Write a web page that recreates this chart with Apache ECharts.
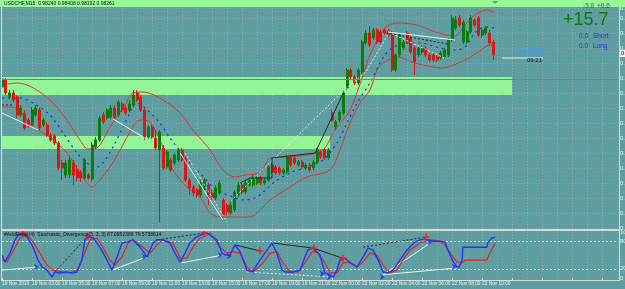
<!DOCTYPE html>
<html style="height: 100%">
<head>
<meta charset="utf-8">
</head>
<body style="height: 100%; margin: 0; background: #5f9ea0">
<div id="container" style="width: 625px; height: 289px"></div>
<script type="text/javascript" src="https://cdn.jsdelivr.net/npm/echarts@6/dist/echarts.min.js"></script>
<script type="text/javascript">

// M15 bars, 165 slots (bars + empty shift area on the right)
var slotCount = 165;
var timeLabels = ['19 Nov 2018', '19 Nov 03:00', '19 Nov 05:00', '19 Nov 07:00', '19 Nov 09:00',
    '19 Nov 11:00', '19 Nov 13:00', '19 Nov 15:00', '19 Nov 17:00', '19 Nov 19:00', '19 Nov 21:00',
    '22 Nov 00:00', '22 Nov 02:00', '22 Nov 04:00', '22 Nov 06:00', '22 Nov 08:00', '22 Nov 10:00'];

var openP = [
    0.9792, 0.9799, 0.9782, 0.9786, 0.9782, 0.9764, 0.9766, 0.9759, 0.9754, 0.9764,
    0.9769, 0.9754, 0.9754, 0.9744, 0.9743, 0.9736, 0.9716, 0.9704, 0.9704, 0.9716,
    0.9709, 0.9707, 0.9701, 0.9704, 0.9700, 0.9732, 0.9739, 0.9764, 0.9761, 0.9762,
    0.9771, 0.9764, 0.9775, 0.9771, 0.9769, 0.9774, 0.9786, 0.9782, 0.9769, 0.9742,
    0.9752, 0.9741, 0.9729, 0.9731, 0.9712, 0.9719, 0.9716, 0.9719, 0.9729, 0.9721,
    0.9699, 0.9692, 0.9689, 0.9684, 0.9689, 0.9694, 0.9686, 0.9681, 0.9686, 0.9679,
    0.9674, 0.9666, 0.9669, 0.9684, 0.9694, 0.9687, 0.9694, 0.9694, 0.9696, 0.9701,
    0.9696, 0.9699, 0.9714, 0.9712, 0.9711, 0.9706, 0.9707, 0.9722, 0.9721, 0.9714,
    0.9717, 0.9711, 0.9712, 0.9711, 0.9717, 0.9727, 0.9729, 0.9721, 0.9766, 0.9752,
    0.9759, 0.9766, 0.9791, 0.9809, 0.9802, 0.9796, 0.9807, 0.9836, 0.9846, 0.9841,
    0.9849, 0.9847, 0.9849, 0.9848, 0.9846, 0.9809, 0.9824, 0.9831, 0.9846, 0.9841,
    0.9831, 0.9824, 0.9827, 0.9831, 0.9824, 0.9824, 0.9822, 0.9821, 0.9822, 0.9824,
    0.9839, 0.9851, 0.9861, 0.9837, 0.9837, 0.9847, 0.9859, 0.9861, 0.9844, 0.9846,
    0.9846, 0.9837
];
var closeP = [
    0.9800, 0.9786, 0.9786, 0.9779, 0.9764, 0.9771, 0.9751, 0.9754, 0.9769, 0.9771,
    0.9751, 0.9759, 0.9744, 0.9739, 0.9736, 0.9711, 0.9711, 0.9716, 0.9719, 0.9704,
    0.9701, 0.9701, 0.9719, 0.9701, 0.9734, 0.9739, 0.9761, 0.9757, 0.9769, 0.9771,
    0.9762, 0.9777, 0.9769, 0.9766, 0.9775, 0.9784, 0.9779, 0.9769, 0.9742, 0.9752,
    0.9742, 0.9731, 0.9747, 0.9711, 0.9727, 0.9709, 0.9724, 0.9729, 0.9719, 0.9699,
    0.9691, 0.9686, 0.9684, 0.9696, 0.9699, 0.9681, 0.9681, 0.9691, 0.9696, 0.9664,
    0.9667, 0.9674, 0.9687, 0.9694, 0.9687, 0.9696, 0.9699, 0.9701, 0.9701, 0.9696,
    0.9699, 0.9712, 0.9707, 0.9706, 0.9706, 0.9709, 0.9722, 0.9714, 0.9716, 0.9717,
    0.9712, 0.9714, 0.9709, 0.9717, 0.9729, 0.9722, 0.9721, 0.9729, 0.9759, 0.9757,
    0.9767, 0.9786, 0.9809, 0.9802, 0.9796, 0.9809, 0.9837, 0.9846, 0.9834, 0.9849,
    0.9837, 0.9837, 0.9846, 0.9844, 0.9809, 0.9824, 0.9844, 0.9837, 0.9837, 0.9827,
    0.9817, 0.9831, 0.9831, 0.9824, 0.9819, 0.9819, 0.9819, 0.9826, 0.9829, 0.9839,
    0.9861, 0.9859, 0.9854, 0.9857, 0.9847, 0.9861, 0.9854, 0.9844, 0.9849, 0.9851,
    0.9836, 0.9824
];
var lowP = [
    0.9789, 0.9784, 0.9780, 0.9777, 0.9761, 0.9762, 0.9749, 0.9751, 0.9752, 0.9762,
    0.9749, 0.9752, 0.9742, 0.9737, 0.9734, 0.9709, 0.9699, 0.9701, 0.9701, 0.9694,
    0.9698, 0.9697, 0.9699, 0.9699, 0.9698, 0.9730, 0.9737, 0.9755, 0.9759, 0.9760,
    0.9760, 0.9762, 0.9767, 0.9764, 0.9767, 0.9772, 0.9777, 0.9767, 0.9739, 0.9740,
    0.9740, 0.9729, 0.9657, 0.9709, 0.9710, 0.9707, 0.9714, 0.9717, 0.9717, 0.9697,
    0.9684, 0.9683, 0.9681, 0.9682, 0.9687, 0.9674, 0.9679, 0.9679, 0.9684, 0.9662,
    0.9664, 0.9664, 0.9667, 0.9682, 0.9685, 0.9685, 0.9692, 0.9692, 0.9694, 0.9694,
    0.9694, 0.9697, 0.9705, 0.9704, 0.9704, 0.9704, 0.9705, 0.9712, 0.9714, 0.9712,
    0.9710, 0.9709, 0.9707, 0.9709, 0.9715, 0.9720, 0.9719, 0.9719, 0.9757, 0.9749,
    0.9757, 0.9764, 0.9789, 0.9800, 0.9794, 0.9794, 0.9805, 0.9834, 0.9832, 0.9839,
    0.9835, 0.9835, 0.9844, 0.9842, 0.9807, 0.9807, 0.9822, 0.9829, 0.9835, 0.9825,
    0.9804, 0.9822, 0.9824, 0.9822, 0.9817, 0.9817, 0.9817, 0.9819, 0.9820, 0.9822,
    0.9837, 0.9849, 0.9852, 0.9835, 0.9835, 0.9845, 0.9852, 0.9842, 0.9841, 0.9844,
    0.9834, 0.9819
];
var highP = [
    0.9803, 0.9801, 0.9789, 0.9789, 0.9784, 0.9774, 0.9769, 0.9761, 0.9772, 0.9774,
    0.9771, 0.9761, 0.9757, 0.9746, 0.9745, 0.9738, 0.9719, 0.9719, 0.9722, 0.9719,
    0.9714, 0.9709, 0.9721, 0.9706, 0.9737, 0.9742, 0.9763, 0.9767, 0.9771, 0.9774,
    0.9774, 0.9779, 0.9777, 0.9773, 0.9779, 0.9789, 0.9789, 0.9784, 0.9771, 0.9754,
    0.9754, 0.9749, 0.9749, 0.9734, 0.9729, 0.9721, 0.9726, 0.9731, 0.9731, 0.9723,
    0.9701, 0.9694, 0.9691, 0.9699, 0.9701, 0.9696, 0.9689, 0.9694, 0.9699, 0.9681,
    0.9676, 0.9679, 0.9689, 0.9697, 0.9696, 0.9699, 0.9701, 0.9704, 0.9703, 0.9703,
    0.9701, 0.9714, 0.9716, 0.9714, 0.9713, 0.9711, 0.9724, 0.9724, 0.9723, 0.9719,
    0.9719, 0.9716, 0.9716, 0.9719, 0.9731, 0.9729, 0.9731, 0.9731, 0.9769, 0.9759,
    0.9769, 0.9789, 0.9811, 0.9811, 0.9804, 0.9811, 0.9839, 0.9849, 0.9853, 0.9851,
    0.9851, 0.9849, 0.9851, 0.9850, 0.9848, 0.9826, 0.9846, 0.9839, 0.9848, 0.9843,
    0.9833, 0.9833, 0.9834, 0.9833, 0.9826, 0.9826, 0.9824, 0.9828, 0.9831, 0.9841,
    0.9864, 0.9863, 0.9864, 0.9859, 0.9849, 0.9864, 0.9861, 0.9863, 0.9851, 0.9853,
    0.9849, 0.9839
];

// envelope / bands, [bar index, price]
var upperBand = [[0, 0.9794], [4, 0.9796], [6.7, 0.9794], [10.1, 0.9787], [13.6, 0.9776], [17.3, 0.9759],
    [20.8, 0.9739], [22.9, 0.9730], [25.3, 0.9731], [28.8, 0.9752], [32.8, 0.9774], [34.9, 0.9786],
    [37.6, 0.9787], [42.1, 0.9781], [47.5, 0.9766], [50.9, 0.9749], [55.5, 0.9729], [58.9, 0.9709],
    [62.1, 0.9702], [64.8, 0.9704], [68.8, 0.9706], [71.5, 0.9721], [74.9, 0.9722], [81.3, 0.9724],
    [85.6, 0.9729], [88.8, 0.9749], [92.8, 0.9769], [96.3, 0.9804], [98.1, 0.9824], [102.1, 0.9851],
    [105.3, 0.9856], [110.7, 0.9854], [115.5, 0.9847], [120.8, 0.9843], [123.5, 0.9854], [126.1, 0.9864],
    [129.3, 0.9869], [131.5, 0.9866]];
var lowerBand = [[0, 0.9772], [2.9, 0.9772], [8.3, 0.9752], [12.8, 0.9742], [17.3, 0.9726], [20.8, 0.9706],
    [22.7, 0.9696], [24, 0.9692], [26.1, 0.9699], [28.8, 0.9712], [31.5, 0.9729], [34.9, 0.9752],
    [36.8, 0.9759], [39.5, 0.9757], [42.9, 0.9732], [45.6, 0.9709], [49.3, 0.9692], [52.8, 0.9682],
    [55.5, 0.9666], [58.1, 0.9662], [66.1, 0.9662], [68.8, 0.9669], [71.5, 0.9679], [76.8, 0.9692],
    [81.3, 0.9702], [87.5, 0.9709], [90.1, 0.9729], [92.8, 0.9756], [95.5, 0.9776], [98.1, 0.9789],
    [100.3, 0.9811], [102.9, 0.9819], [105.6, 0.9822], [110.1, 0.9816], [117.3, 0.9811], [123.5, 0.9819],
    [127, 0.9827], [130.1, 0.9834], [131.5, 0.9832]];
var midLine = [[0, 0.9781], [4.8, 0.9781], [8.3, 0.9776], [12.8, 0.9764], [16.3, 0.9746], [20, 0.9726],
    [22.7, 0.9716], [24.8, 0.9711], [26.9, 0.9716], [29.6, 0.9732], [32.8, 0.9756], [36, 0.9776],
    [38.7, 0.9769], [42.1, 0.9756], [44.8, 0.9741], [49.3, 0.9719], [52.8, 0.9706], [56.3, 0.9692],
    [58.9, 0.9686], [61.6, 0.9682], [64.3, 0.9679], [68, 0.9682], [72.3, 0.9696], [76.8, 0.9706],
    [81.3, 0.9712], [85.6, 0.9719], [89.3, 0.9736], [92, 0.9756], [94.7, 0.9776], [98.1, 0.9796],
    [102.1, 0.9824], [105.6, 0.9834], [111.5, 0.9836], [116.8, 0.9831], [120.8, 0.9829], [123.5, 0.9832],
    [126.1, 0.9846], [128.8, 0.9852], [131.5, 0.9851]];

// zones and levels
var zones = [[0, 136, 0.9802, 0.9784], [0, 87.5, 0.9743, 0.9730]];
var sellLevel = 0.9852;
var bidLevel = 0.9825;
var zoneLevel = 0.9786;
var priceTag = [133.3, 144.3, 0.9821];

// trend lines on the price pane
var trendWhite = [[[0, 0.9766], [9.6, 0.9749]], [[29.6, 0.9760], [38.1, 0.9741]],
    [[47.5, 0.9726], [58.9, 0.9659]], [[103, 0.9847], [120.8, 0.9839]]];
var trendWhiteDot = [[[48.8, 0.9726], [60, 0.9657]],
    [[61, 0.9678], [91, 0.9788], [97, 0.9807], [103, 0.9845]], [[103, 0.9847], [118, 0.9821]]];
var trendDark = [[[63.5, 0.9696], [66.1, 0.9701], [72, 0.9701], [72, 0.9721], [83.5, 0.9726], [91, 0.9786]]];
var trendDarkDot = [[[0, 0.9774], [2.9, 0.9774]], [[102.5, 0.9846], [119, 0.9835]]];

// stochastic %K / %D
var stochK = [[0, 50], [0.8, 35], [2.1, 54], [3.5, 83], [4.3, 93], [5.6, 98], [6.9, 87], [8.3, 67], [9.6, 39],
    [10.7, 24], [12, 17], [13.3, 2], [14.1, 13], [15.5, 11], [17.3, 13], [18.7, 11], [20, 13], [21.3, 39],
    [22.1, 83], [22.9, 89], [24.3, 87], [26.1, 67], [28, 39], [29.3, 17], [30.7, 46], [32, 76], [33.3, 78],
    [34.9, 83], [36.8, 67], [38.7, 46], [40.3, 76], [41.3, 83], [42.9, 83], [44.8, 76], [46.1, 54],
    [47.5, 35], [48.8, 54], [50.1, 76], [51.5, 87], [52.8, 93], [54.7, 98], [55.5, 93], [57.3, 83],
    [58.7, 54], [59.5, 50], [60.8, 50], [62.1, 72], [63.5, 57], [65.3, 17], [66.7, 13], [68.3, 33],
    [70.1, 54], [72, 76], [73.3, 54], [74.7, 17], [75.5, 13], [77.6, 13], [79.5, 17], [80.8, 46],
    [81.6, 61], [82.9, 65], [84.8, 50], [86.1, 11], [87.5, 7], [88.3, 2], [89.3, 17], [90.1, 39],
    [91.5, 43], [92.8, 33], [94.7, 24], [96.3, 46], [97.6, 65], [98.9, 61], [100.3, 39], [101.6, 13],
    [102.9, 11], [104.3, 17], [106.1, 39], [108, 61], [110.1, 78], [111.5, 83], [112.8, 85], [114.9, 80],
    [116.8, 80], [118.1, 78], [118.9, 61], [120.3, 35], [121.3, 24], [121.9, 24], [122.7, 39],
    [122.9, 67], [129.3, 67], [129.6, 78], [130.7, 87], [131.5, 89]];
var stochD = [[0, 39], [1.3, 35], [2.9, 57], [4.8, 87], [6.7, 93], [8.3, 78], [10.1, 54], [12, 28], [13.6, 17],
    [16.3, 13], [18.1, 11], [20, 17], [21.6, 46], [23.5, 83], [25.3, 87], [26.9, 67], [28.8, 39], [30.1, 28],
    [32, 46], [33.6, 76], [34.9, 83], [37.6, 67], [39.5, 54], [41.3, 72], [42.9, 83], [45.6, 76], [47.5, 43],
    [49.3, 43], [50.9, 67], [52.8, 87], [54.7, 93], [55.5, 98], [58.1, 67], [60, 54], [61.6, 57], [63.5, 54],
    [65.3, 24], [66.9, 13], [69.6, 33], [71.5, 54], [73.3, 57], [74.9, 33], [76.8, 13], [78.9, 13],
    [80.8, 33], [82.7, 57], [84, 57], [86.1, 33], [87.5, 11], [89.3, 11], [90.9, 33], [92.8, 35], [94.7, 24],
    [96.3, 35], [98.1, 54], [100, 50], [101.6, 28], [103.5, 11], [105.3, 17], [106.9, 39], [108.8, 61],
    [111.5, 76], [114.1, 83], [116.8, 80], [118.1, 72], [119.5, 54], [121.3, 35], [122.7, 33], [123.5, 39],
    [129.3, 39], [130.1, 54], [131.5, 76]];
var stochPeaks = [[5.6, 98], [22.9, 91], [53.9, 98], [68.8, 59], [83.2, 65], [90.9, 43], [113.1, 89]];
var stochTroughs = [[9.9, 24], [38.7, 46], [58.9, 50], [61.3, 48], [86.1, 9], [88, 2], [102.1, 2], [114.9, 78], [121.3, 24]];
var stochWhite = [[[0, 17], [9.6, 24]], [[29.3, 17], [38.7, 46]], [[47.9, 33], [58.9, 50]],
    [[101.6, 7], [111.5, 61], [114.9, 80]], [[101.6, 7], [121.3, 22]]];
var stochWhiteDot = [[[65.3, 13], [88.3, 2]]];
var stochDark = [[[62.1, 72], [68.8, 59]], [[72.3, 76], [82.9, 65], [90.9, 43]]];
var stochDarkDot = [[[14.1, 13], [22.9, 91]], [[41.6, 83], [54.1, 98]], [[96.3, 67], [113.1, 89]]];

var dom = document.getElementById('container');
var myChart = echarts.init(dom);
var FONT = 'Liberation Sans';
var gridColor = '#8fa9aa';

var slots = [];
for (var s = 0; s < slotCount; s++) slots.push(String(s));

var candles = openP.map(function (o, k) {
    return [o, closeP[k], lowP[k], highP[k]];
});

function segSeries(segs, xi, yi, color, type, width) {
    return segs.map(function (seg) {
        return {
            type: 'line', xAxisIndex: xi, yAxisIndex: yi, data: seg,
            symbol: 'none', silent: true, z: 4,
            lineStyle: { color: color, width: width || 1, type: type }
        };
    });
}

function textEl(str, x, y, color, size, weight) {
    return {
        type: 'text', x: x, y: y, z: 100,
        style: {
            text: str, fill: color, fontSize: size, fontFamily: FONT,
            fontWeight: weight || 'normal', verticalAlign: 'top'
        }
    };
}

var series = [
    {
        // zones behind the bars
        type: 'line', xAxisIndex: 2, yAxisIndex: 0, data: [], z: 1,
        markArea: {
            silent: true,
            itemStyle: { color: '#98fb98', opacity: 0.93 },
            data: zones.map(function (r) {
                return [{ coord: [r[0], r[2]] }, { coord: [r[1], r[3]] }];
            })
        },
        markLine: {
            silent: true, symbol: 'none', animation: false,
            data: [
                {
                    yAxis: sellLevel,
                    lineStyle: { color: '#d06060', width: 1.5, type: [7, 2, 2, 2] },
                    label: {
                        show: true, position: 'insideStartTop', formatter: '#9467970 sell',
                        color: '#f4f4f4', fontSize: 5, fontFamily: FONT, distance: [2, 2]
                    }
                },
                { yAxis: bidLevel, lineStyle: { color: '#b06060', width: 1, type: 'solid' }, label: { show: false } },
                { yAxis: zoneLevel, lineStyle: { color: '#a07070', width: 1, type: [2, 2] }, label: { show: false } }
            ]
        }
    },
    {
        type: 'candlestick', xAxisIndex: 0, yAxisIndex: 0, data: candles, z: 3,
        barWidth: 2.5, clip: false,
        itemStyle: {
            color: '#0c7c0c', color0: '#d81818',
            borderColor: '#0c7c0c', borderColor0: '#d81818', borderWidth: 1
        }
    },
    {
        type: 'line', xAxisIndex: 2, yAxisIndex: 0, data: upperBand, symbol: 'none', z: 3,
        smooth: 0.3, lineStyle: { color: '#e03434', width: 1 }
    },
    {
        type: 'line', xAxisIndex: 2, yAxisIndex: 0, data: lowerBand, symbol: 'none', z: 3,
        smooth: 0.3, lineStyle: { color: '#e03434', width: 1 }
    },
    {
        type: 'line', xAxisIndex: 2, yAxisIndex: 0, data: midLine, symbol: 'none', z: 3,
        smooth: 0.3, lineStyle: { color: '#1a30e8', width: 1.2, type: [2, 4] }
    },
    {
        type: 'line', xAxisIndex: 2, yAxisIndex: 0, symbol: 'none', z: 4,
        data: [[priceTag[0], priceTag[2]], [priceTag[1], priceTag[2]]],
        lineStyle: { color: '#f0f0f0', width: 1 }
    },
    // stochastic pane
    {
        type: 'line', xAxisIndex: 3, yAxisIndex: 1, data: stochD, symbol: 'none', z: 5,
        lineStyle: { color: '#e42222', width: 1.2 },
        markLine: {
            silent: true, symbol: 'none', label: { show: false },
            lineStyle: { color: '#d8dede', width: 1, type: [2, 2] },
            data: [{ yAxis: 20 }, { yAxis: 80 }]
        }
    },
    {
        type: 'line', xAxisIndex: 3, yAxisIndex: 1, data: stochK, symbol: 'none', z: 6,
        lineStyle: { color: '#2234ff', width: 1.4 }
    },
    {
        type: 'scatter', xAxisIndex: 3, yAxisIndex: 1, data: stochPeaks, z: 8,
        symbol: 'path://M3,0h2v3h3v2h-3v3h-2v-3h-3v-2h3z', symbolSize: 7,
        itemStyle: { color: '#ff1a1a' }
    },
    {
        type: 'scatter', xAxisIndex: 3, yAxisIndex: 1, data: stochTroughs, z: 8,
        symbol: 'arrow', symbolSize: 5, symbolRotate: -90,
        itemStyle: { color: '#1a2cff' }
    }
];
series = series
    .concat(segSeries(trendWhite, 2, 0, '#eef2f2', 'solid', 1))
    .concat(segSeries(trendWhiteDot, 2, 0, '#e6ecec', [2, 2], 1))
    .concat(segSeries(trendDark, 2, 0, '#1e2a2a', 'solid', 1))
    .concat(segSeries(trendDarkDot, 2, 0, '#1e2a2a', [2, 2], 1))
    .concat(segSeries(stochWhite, 3, 1, '#eef2f2', 'solid', 1))
    .concat(segSeries(stochWhiteDot, 3, 1, '#e6ecec', [2, 2], 1))
    .concat(segSeries(stochDark, 3, 1, '#1e2a2a', 'solid', 1))
    .concat(segSeries(stochDarkDot, 3, 1, '#1e2a2a', [2, 2], 1));

var frame = '#d2dada';
var option = {
    backgroundColor: '#5f9ea0',
    animation: false,
    grid: [
        { left: 2, right: 8, top: 8, height: 220, containLabel: false, outerBoundsMode: 'none' },
        { left: 2, right: 8, top: 232, height: 46, containLabel: false, outerBoundsMode: 'none' }
    ],
    xAxis: [
        {
            type: 'category', gridIndex: 0, data: slots, boundaryGap: false,
            axisLine: { show: false }, axisTick: { show: false }, axisLabel: { show: false },
            splitLine: { show: true, interval: 3, lineStyle: { color: gridColor, type: [1, 2] } }
        },
        {
            type: 'category', gridIndex: 1, data: slots, boundaryGap: false,
            axisLine: { show: false },
            axisTick: { show: true, interval: 7, length: 3, lineStyle: { color: frame } },
            axisLabel: {
                interval: 7, color: '#eef0f0', fontSize: 4.8, fontFamily: FONT, align: 'left', margin: 3,
                showMinLabel: true, hideOverlap: false,
                formatter: function (v, idx) { return timeLabels[idx / 8] || ''; }
            },
            splitLine: { show: true, interval: 3, lineStyle: { color: gridColor, type: [1, 2] } }
        },
        { type: 'value', gridIndex: 0, min: 0, max: slotCount - 1, show: false },
        { type: 'value', gridIndex: 1, min: 0, max: slotCount - 1, show: false }
    ],
    yAxis: [
        {
            type: 'value', gridIndex: 0, position: 'right', min: 0.9651, max: 0.9871, interval: 0.0015,
            axisLine: { show: false }, axisTick: { show: false },
            axisLabel: { color: '#eef0f0', fontSize: 6, fontFamily: FONT, margin: 3,
                formatter: function (v) { return v.toFixed(4); } },
            splitLine: { show: true, lineStyle: { color: gridColor, type: [1, 2] } }
        },
        {
            type: 'value', gridIndex: 1, position: 'right', min: 0, max: 100, interval: 20,
            axisLine: { show: false }, axisTick: { show: false },
            axisLabel: { color: '#eef0f0', fontSize: 6, fontFamily: FONT, margin: 3,
                formatter: function (v) { return (v === 0 || v === 20 || v === 80 || v === 100) ? String(v) : ''; } },
            splitLine: { show: false }
        }
    ],
    series: series,
    graphic: [
        { type: 'rect', shape: { x: 0, y: 0, width: 625, height: 7 }, style: { fill: '#98fb98' }, z: 90 },
        { type: 'polygon', shape: { points: [[492, 1], [498, 1], [495, 4]] }, style: { fill: '#7c8a8a' }, z: 95 },
        { type: 'line', shape: { x1: 1.5, y1: 7, x2: 1.5, y2: 281 }, style: { stroke: frame, lineWidth: 1 }, z: 90 },
        { type: 'line', shape: { x1: 619.5, y1: 7, x2: 619.5, y2: 281 }, style: { stroke: frame, lineWidth: 1 }, z: 90 },
        { type: 'line', shape: { x1: 1, y1: 230, x2: 620, y2: 230 }, style: { stroke: frame, lineWidth: 2 }, z: 90 },
        { type: 'line', shape: { x1: 1, y1: 280.5, x2: 620, y2: 280.5 }, style: { stroke: frame, lineWidth: 1 }, z: 90 },
        { type: 'rect', shape: { x: 620, y: 50, width: 8, height: 7 }, style: { fill: '#f2f2f2' }, z: 96 },
        textEl('0.98', 621, 50, '#101010', 6),
        textEl('USDCHF,M15  0.98240 0.98408 0.98192 0.98261', 4, 1.5, '#101010', 5),
        textEl('#AddPanel(4)  Stochastic_Divergence(5, 3, 3) 87.0952386 79.5738614', 4, 232.5, '#101010', 5),
        textEl('-5.8', 583, 3, '#168c16', 6.5),
        textEl('+0.6', 597, 3, '#1d3ad8', 6.5),
        textEl('+15.7', 563, 11, '#0d7a0d', 18),
        textEl('0.0', 579, 33, '#1d3ad8', 6.5),
        textEl('Short', 593, 33, '#1d3ad8', 6.5),
        textEl('0.0', 579, 43, '#1d3ad8', 6.5),
        textEl('Long', 593, 43, '#1d3ad8', 6.5),
        textEl('0.9826', 513, 47, '#3f9ef8', 10),
        textEl('09:21', 527, 57, '#101010', 6)
    ]
};

if (option && typeof option === 'object') {
    myChart.setOption(option);
}
</script>
</body>
</html>
